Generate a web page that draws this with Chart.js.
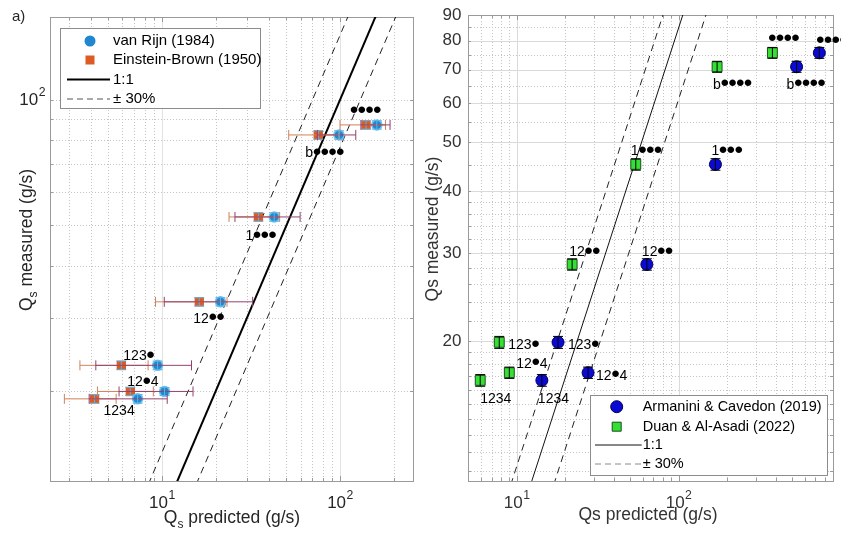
<!DOCTYPE html>
<html>
<head>
<meta charset="utf-8">
<script src="https://cdn.jsdelivr.net/npm/chart.js@4.4.1/dist/chart.umd.min.js"></script>
<style>
  body { margin: 0; background: #fff; }
  #wrap { position: relative; width: 841px; height: 534px; overflow: hidden; }
  canvas { position: absolute; top: 0; }
  #left { left: 0; }
  #right { left: 420px; }
</style>
</head>
<body>
<div id="wrap">
  <canvas id="left" width="420" height="534"></canvas>
  <canvas id="right" width="421" height="534"></canvas>
</div>
<script>
// Run labels (dots = masked digits)
const tags = ['●●●●', 'b●●●●', '1●●●', '12●●', '123●', '12●4', '1234'];

// a) van Rijn vs Einstein-Brown
const measuredA = [87.1, 82.4, 52.4, 32.8, 23.1, 20.0, 19.2];
const measuredErrA = [2.0, 1.9, 1.2, 0.75, 0.55, 0.45, 0.45];
const vanRijn = [161, 98.6, 42.7, 21.3, 9.45, 10.34, 7.3];
const vanRijnErr = [30, 24, 17, 11, 5.2, 4.6, 3.4];
const einsteinBrown = [140, 75.5, 34.8, 16.2, 5.91, 6.64, 4.18];
const einsteinBrownErr = [40, 24, 11, 7, 2.45, 2.3, 1.35];

// b) Armanini & Cavedon vs Duan & Al-Asadi
const measuredB = [75.6, 70.9, 45.2, 28.5, 19.9, 17.3, 16.7];
const measuredErrB = [1.9, 1.8, 1.2, 0.75, 0.55, 0.45, 0.45];
const armanini = [741, 536, 169, 63.7, 18.0, 27.6, 14.3];
const duan = [380, 173, 54.4, 22.0, 7.8, 9.0, 5.95];

// reference lines as predicted = factor * measured (1:1, -30%, +30%)
const refFactorsA = { one: 1, low: 0.7, high: 1.3 };
const refFactorsB = { one: 1.18, low: 0.89, high: 1.64 };

// axis ranges and labelled ticks
const rangeA = { x: [2.35, 257], y: [12.2, 158] };
const rangeB = { x: [5, 900], y: [10.5, 90] };
const ticksAx = [10, 100];
const ticksAy = [100];
const ticksBx = [10, 100];
const ticksBy = [20, 30, 40, 50, 60, 70, 80, 90];

const FAMILY = "'Liberation Sans', Arial, sans-serif";
const font = size => `${size}px ${FAMILY}`;
const pts = (xs, ys) => xs.map((x, i) => ({ x, y: ys[i] }));

// --- drawing helpers ---
function drawGrid(chart, g) {
  const { ctx, chartArea: a, scales: { x, y } } = chart;
  ctx.save();
  ctx.lineWidth = 1;
  const seg = (x1, y1, x2, y2) => { ctx.beginPath(); ctx.moveTo(x1, y1); ctx.lineTo(x2, y2); ctx.stroke(); };
  [[g.xMinor, false], [g.xMajor, true]].forEach(([vals, solid]) => {
    ctx.strokeStyle = solid ? g.majorColor : g.minorColor;
    ctx.setLineDash(solid ? [] : [1, 2]);
    vals.forEach(v => { const p = Math.round(x.getPixelForValue(v)) + 0.5; seg(p, a.top, p, a.bottom); });
  });
  [[g.yMinor, false], [g.yMajor, true]].forEach(([vals, solid]) => {
    ctx.strokeStyle = solid ? g.majorColor : g.minorColor;
    ctx.setLineDash(solid ? [] : [1, 2]);
    vals.forEach(v => { const p = Math.round(y.getPixelForValue(v)) + 0.5; seg(a.left, p, a.right, p); });
  });
  // small inward ticks on the frame
  ctx.setLineDash([]);
  ctx.strokeStyle = g.frameColor;
  [...g.xMinor, ...g.xMajor].forEach(v => {
    const p = Math.round(x.getPixelForValue(v)) + 0.5;
    const l = g.xMajor.includes(v) ? 5 : 3;
    seg(p, a.bottom, p, a.bottom - l); seg(p, a.top, p, a.top + l);
  });
  [...g.yMinor, ...g.yMajor].forEach(v => {
    const p = Math.round(y.getPixelForValue(v)) + 0.5;
    seg(a.left, p, a.left + 3, p); seg(a.right, p, a.right - 3, p);
  });
  ctx.strokeRect(Math.round(a.left) + 0.5, Math.round(a.top) + 0.5, Math.round(a.right - a.left), Math.round(a.bottom - a.top));
  ctx.restore();
}

function drawErrorBars(chart, b) {
  const { ctx, scales: { x, y } } = chart;
  ctx.save();
  ctx.lineWidth = 1;
  b.xs.forEach((xv, i) => {
    const px = x.getPixelForValue(xv), py = y.getPixelForValue(b.ys[i]);
    if (b.xErr) {
      const x1 = x.getPixelForValue(xv - b.xErr[i]), x2 = x.getPixelForValue(xv + b.xErr[i]);
      ctx.strokeStyle = b.hColor;
      ctx.beginPath();
      ctx.moveTo(x1, py); ctx.lineTo(x2, py);
      ctx.moveTo(x1, py - b.cap); ctx.lineTo(x1, py + b.cap);
      ctx.moveTo(x2, py - b.cap); ctx.lineTo(x2, py + b.cap);
      ctx.stroke();
    }
    const y1 = y.getPixelForValue(b.ys[i] + b.yErr[i]), y2 = y.getPixelForValue(b.ys[i] - b.yErr[i]);
    ctx.strokeStyle = b.vColor;
    ctx.lineWidth = b.vWidth || 1;
    ctx.beginPath();
    ctx.moveTo(px, y1); ctx.lineTo(px, y2);
    ctx.moveTo(px - b.cap, y1); ctx.lineTo(px + b.cap, y1);
    ctx.moveTo(px - b.cap, y2); ctx.lineTo(px + b.cap, y2);
    ctx.stroke();
    ctx.lineWidth = 1;
  });
  ctx.restore();
}

// label text drawn cell by cell so dots take a digit's width
function drawTag(ctx, text, x, y, size) {
  ctx.font = font(size);
  const cell = ctx.measureText('0').width;
  const dot = size * 1.75;
  [...text].forEach((ch, k) => {
    const cx = x + k * cell;
    if (ch === '●') {
      ctx.font = font(dot);
      ctx.textAlign = 'center';
      ctx.fillText('•', cx + cell / 2, y + dot * 0.27 + 1);
      ctx.font = font(size);
      ctx.textAlign = 'left';
    } else {
      ctx.fillText(ch, cx, y + size * 0.36);
    }
  });
}

function drawTags(chart, t) {
  const { ctx, scales: { x, y } } = chart;
  ctx.save();
  ctx.fillStyle = '#000';
  ctx.textAlign = 'left';
  ctx.textBaseline = 'alphabetic';
  t.xs.forEach((xv, i) => {
    const [dx, dy] = t.offsets[i];
    drawTag(ctx, tags[i], x.getPixelForValue(xv) + dx, y.getPixelForValue(t.ys[i]) + dy, t.size);
  });
  ctx.restore();
}

function drawPow(ctx, exp, x, y, align, size) {
  ctx.font = font(size);
  const w1 = ctx.measureText('10').width;
  ctx.font = font(size * 0.72);
  const w2 = ctx.measureText(exp).width;
  const x0 = align === 'right' ? x - w1 - w2 : x - (w1 + w2) / 2;
  ctx.textAlign = 'left';
  ctx.textBaseline = 'middle';
  ctx.font = font(size);
  ctx.fillText('10', x0, y);
  ctx.font = font(size * 0.72);
  ctx.fillText(exp, x0 + w1 + 0.5, y - size * 0.42);
}

// axis title made of [text, size, shift] pieces, centred on (cx, cy)
function drawTitle(ctx, pieces, cx, cy, vertical) {
  ctx.save();
  ctx.translate(cx, cy);
  if (vertical) ctx.rotate(-Math.PI / 2);
  ctx.textBaseline = 'alphabetic';
  ctx.textAlign = 'left';
  let w = 0;
  pieces.forEach(([s, size]) => { ctx.font = font(size); w += ctx.measureText(s).width; });
  let px = -w / 2;
  pieces.forEach(([s, size, shift]) => {
    ctx.font = font(size);
    ctx.fillText(s, px, shift || 0);
    px += ctx.measureText(s).width;
  });
  ctx.restore();
}

function drawLegend(ctx, L) {
  ctx.save();
  ctx.fillStyle = '#fff';
  ctx.fillRect(L.x, L.y, L.w, L.h);
  ctx.strokeStyle = L.border;
  ctx.lineWidth = 1;
  ctx.strokeRect(L.x + 0.5, L.y + 0.5, L.w, L.h);
  L.rows.forEach((r, i) => {
    const yy = L.rowY[i];
    if (r.kind === 'circle' || r.kind === 'rect') {
      ctx.fillStyle = r.fill;
      ctx.strokeStyle = r.edge;
      ctx.lineWidth = r.edgeWidth;
      ctx.beginPath();
      if (r.kind === 'circle') ctx.arc(L.markX, yy, r.r, 0, Math.PI * 2);
      else ctx.rect(L.markX - r.r, yy - r.r, r.r * 2, r.r * 2);
      ctx.fill();
      if (r.edgeWidth) ctx.stroke();
    } else {
      ctx.strokeStyle = r.color;
      ctx.lineWidth = r.width;
      ctx.setLineDash(r.dash || []);
      ctx.beginPath();
      ctx.moveTo(L.lineX[0], yy); ctx.lineTo(L.lineX[1], yy);
      ctx.stroke();
      ctx.setLineDash([]);
    }
    ctx.fillStyle = '#000';
    ctx.font = font(L.size);
    ctx.textBaseline = 'middle';
    ctx.textAlign = 'left';
    ctx.fillText(r.label, L.textX, yy);
  });
  ctx.restore();
}

function refLine(f, color, width, dash) {
  return {
    data: [4, 600].map(v => ({ x: v * f, y: v })),
    showLine: true, pointRadius: 0, borderColor: color, borderWidth: width,
    borderDash: dash, fill: false, order: 3
  };
}

function makeChart(id, p) {
  const decor = {
    id: 'decor',
    beforeDatasetsDraw(chart) { drawGrid(chart, p.grid); },
    afterDatasetsDraw(chart) { p.errorBars.forEach(b => drawErrorBars(chart, b)); },
    afterDraw(chart) {
      const { ctx, scales: { x, y } } = chart;
      ctx.save();
      ctx.fillStyle = p.textColor;
      p.xTicks.forEach(v => drawPow(ctx, String(Math.log10(v)), x.getPixelForValue(v), p.xTickY, 'center', p.tickSize));
      if (p.yPow) {
        p.yTicks.forEach(v => drawPow(ctx, String(Math.log10(v)), p.yTickX, y.getPixelForValue(v), 'right', p.tickSize));
      } else {
        ctx.font = font(p.tickSize);
        ctx.textAlign = 'right';
        ctx.textBaseline = 'middle';
        p.yTicks.forEach(v => ctx.fillText(String(v), p.yTickX, y.getPixelForValue(v)));
      }
      drawTitle(ctx, p.xTitle, p.xTitlePos[0], p.xTitlePos[1], false);
      drawTitle(ctx, p.yTitle, p.yTitlePos[0], p.yTitlePos[1], true);
      if (p.panelTag) {
        ctx.font = font(15);
        ctx.textAlign = 'left';
        ctx.textBaseline = 'middle';
        ctx.fillText(p.panelTag, 12, 17);
      }
      ctx.restore();
      p.tags.forEach(t => drawTags(chart, t));
      drawLegend(ctx, p.legend);
    }
  };

  return new Chart(document.getElementById(id), {
    type: 'scatter',
    data: { datasets: p.datasets },
    options: {
      responsive: false,
      animation: false,
      devicePixelRatio: 1,
      events: [],
      layout: { padding: p.padding },
      plugins: { legend: { display: false }, tooltip: { enabled: false } },
      scales: {
        x: { type: 'logarithmic', display: false, min: p.range.x[0], max: p.range.x[1] },
        y: { type: 'logarithmic', display: false, min: p.range.y[0], max: p.range.y[1] }
      }
    },
    plugins: [decor]
  });
}

// --- panel a ---
makeChart('left', {
  range: rangeA,
  padding: { left: 50, top: 17, right: 7, bottom: 53 },
  textColor: '#262626',
  tickSize: 17,
  xTicks: ticksAx, xTickY: 503,
  yTicks: ticksAy, yTickX: 45, yPow: true,
  xTitle: [['Q', 17.5], ['s', 12, 5], [' predicted (g/s)', 17.5]],
  xTitlePos: [232, 523],
  yTitle: [['Q', 17.5], ['s', 12, 5], [' measured (g/s)', 17.5]],
  yTitlePos: [32, 240],
  panelTag: 'a)',
  grid: {
    xMajor: [10, 100], xMinor: [3, 4, 5, 6, 7, 8, 9, 20, 30, 40, 50, 60, 70, 80, 90, 200],
    yMajor: [], yMinor: [20, 30, 40, 50, 60, 70, 80, 90, 100],
    majorColor: '#e2e2e2', minorColor: '#c4c4c4', frameColor: '#9a9a9a'
  },
  datasets: [
    { data: pts(vanRijn, measuredA), pointStyle: 'circle', pointRadius: 5, backgroundColor: '#1f86cf', borderColor: '#6ec3ef', borderWidth: 1.5, order: 1 },
    { data: pts(einsteinBrown, measuredA), pointStyle: 'rect', pointRadius: 6.6, backgroundColor: '#dd5a22', borderColor: '#dd5a22', borderWidth: 0, order: 1 },
    refLine(refFactorsA.one, '#000', 2, []),
    refLine(refFactorsA.low, '#222', 1, [7, 5]),
    refLine(refFactorsA.high, '#222', 1, [7, 5])
  ],
  errorBars: [
    { xs: einsteinBrown, ys: measuredA, xErr: einsteinBrownErr, yErr: measuredErrA, hColor: '#d0825a', vColor: '#5ab4e6', cap: 5 },
    { xs: vanRijn, ys: measuredA, xErr: vanRijnErr, yErr: measuredErrA, hColor: '#94406e', vColor: '#5ab4e6', cap: 5 }
  ],
  tags: [
    { xs: einsteinBrown, ys: measuredA, size: 14,
      offsets: [[-16, -15], [-13, 17], [-13, 18], [-6, 16], [2, -10], [-3, -10], [9, 11]] }
  ],
  legend: {
    x: 60, y: 28, w: 200, h: 80, border: '#8c8c8c', size: 15,
    rowY: [41, 60, 79.5, 99], markX: 90, lineX: [67, 110], textX: 113,
    rows: [
      { kind: 'circle', fill: '#1f86cf', edge: '#1f86cf', edgeWidth: 0, r: 5.5, label: 'van Rijn (1984)' },
      { kind: 'rect', fill: '#dd5a22', edge: '#dd5a22', edgeWidth: 0, r: 4.5, label: 'Einstein-Brown (1950)' },
      { kind: 'line', color: '#000', width: 2, label: '1:1' },
      { kind: 'line', color: '#555', width: 1, dash: [6, 4], label: '± 30%' }
    ]
  }
});

// --- panel b ---
makeChart('right', {
  range: rangeB,
  padding: { left: 48, top: 15, right: 8, bottom: 53 },
  textColor: '#333',
  tickSize: 17,
  xTicks: ticksBx, xTickY: 503,
  yTicks: ticksBy, yTickX: 41.5, yPow: false,
  xTitle: [['Qs predicted (g/s)', 17.5]],
  xTitlePos: [228, 520],
  yTitle: [['Qs measured (g/s)', 17.5]],
  yTitlePos: [18, 229],
  grid: {
    xMajor: [10, 100], xMinor: [6, 7, 8, 9, 20, 30, 40, 50, 60, 70, 80, 90, 200, 300, 400, 500, 600, 700, 800],
    yMajor: [20, 30, 40, 50, 60, 70, 80],
    yMinor: [11, 12, 13, 14, 15, 16, 17, 18, 19, 22, 24, 26, 28, 32, 34, 36, 38, 45, 55, 65, 75, 85],
    majorColor: '#dadada', minorColor: '#c4c4c4', frameColor: '#9a9a9a'
  },
  datasets: [
    { data: pts(armanini, measuredB), pointStyle: 'circle', pointRadius: 6, backgroundColor: '#0a0ad2', borderColor: '#00005a', borderWidth: 1, order: 1 },
    { data: pts(duan, measuredB), pointStyle: 'rect', pointRadius: 7, backgroundColor: '#33e033', borderColor: '#1b4f1b', borderWidth: 1, order: 1 },
    refLine(refFactorsB.one, '#111', 1, []),
    refLine(refFactorsB.low, '#222', 1, [7, 5]),
    refLine(refFactorsB.high, '#222', 1, [7, 5])
  ],
  errorBars: [
    { xs: armanini, ys: measuredB, yErr: measuredErrB, vColor: '#000', cap: 5 },
    { xs: duan, ys: measuredB, yErr: measuredErrB, vColor: '#000', cap: 5 }
  ],
  tags: [
    { xs: duan, ys: measuredB, size: 14,
      offsets: [[-4, -14], [-4, 17], [-5, -14], [-3, -13], [9, 2], [7, -10], [0, 18]] },
    { xs: armanini, ys: measuredB, size: 14,
      offsets: [[-3, -12], [-10, 17], [-4, -14], [-5, -13], [10, 2], [8, 2], [-4, 18]] }
  ],
  legend: {
    x: 170, y: 395, w: 237, h: 80, border: '#8c8c8c', size: 14.5,
    rowY: [406.7, 426.7, 445, 464], markX: 196.7, lineX: [175, 221.7], textX: 222.7,
    rows: [
      { kind: 'circle', fill: '#0a0ad2', edge: '#00005a', edgeWidth: 1, r: 6, label: 'Armanini & Cavedon (2019)' },
      { kind: 'rect', fill: '#33e033', edge: '#1b4f1b', edgeWidth: 1, r: 4.5, label: 'Duan & Al-Asadi (2022)' },
      { kind: 'line', color: '#111', width: 1, label: '1:1' },
      { kind: 'line', color: '#888', width: 1, dash: [6, 4], label: '± 30%' }
    ]
  }
});
</script>
</body>
</html>
